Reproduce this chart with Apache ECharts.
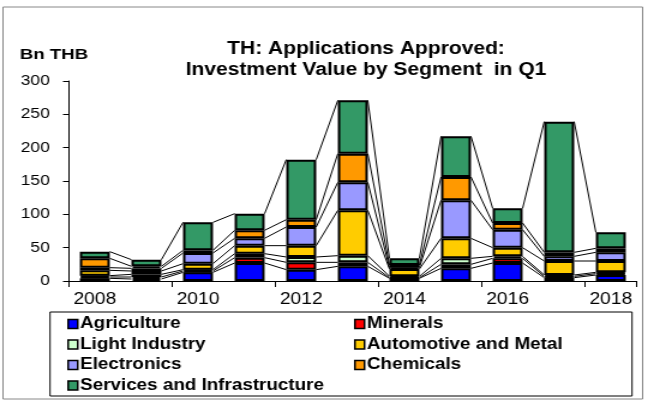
<!DOCTYPE html>
<html>
<head>
<meta charset="utf-8">
<script src="https://cdn.jsdelivr.net/npm/echarts@6/dist/echarts.min.js"></script>
<style>
  html, body { margin: 0; padding: 0; background: #fff; overflow: hidden; }
  /* the source picture is stretched sideways, so draw narrower and widen it */
  #chart { width: 538px; height: 400px; transform: scaleX(1.2); transform-origin: 0 0; }
</style>
</head>
<body>
<div id="chart"></div>
<script>
// years on the x axis
const years = ['2008','2009','2010','2011','2012','2013','2014','2015','2016','2017','2018']

// Bn THB per segment
const agriculture = [4, 3, 13, 27, 17, 22, 4, 19, 27, 5, 9]
const minerals    = [2, 3, 2, 8, 11, 6, 1, 6, 7, 2, 2]
const lightInd    = [2, 4, 2, 6, 8, 10, 2, 9, 3, 2, 2]
const automotive  = [8, 5, 9, 12, 17, 68, 11, 30, 13, 21, 17]
const electronics = [4, 4, 16, 11, 28, 42, 2, 57, 27, 7, 13]
const chemicals   = [14, 3, 4, 12, 11, 43, 4, 35, 10, 6, 6]
const services    = [10, 10, 42, 25, 90, 80, 10, 61, 22, 196, 24]

const yTicks = [0, 50, 100, 150, 200, 250, 300]

const segments = [
  { name: 'Agriculture', data: agriculture, color: '#0000FF' },
  { name: 'Minerals', data: minerals, color: '#FF0000' },
  { name: 'Light Industry', data: lightInd, color: '#CCFFCC' },
  { name: 'Automotive and Metal', data: automotive, color: '#FFCC00' },
  { name: 'Electronics', data: electronics, color: '#9999FF' },
  { name: 'Chemicals', data: chemicals, color: '#FF9900' },
  { name: 'Services and Infrastructure', data: services, color: '#339966' }
]

const FONT = 'Arial, "Liberation Sans", sans-serif'
const BAR_RATIO = 0.58

// running totals, used for the connector lines between bars
let cum = []
let run = years.map(() => 0)
segments.forEach(s => {
  run = run.map((v, i) => v + s.data[i])
  cum.push(run.slice())
})

const chart = echarts.init(document.getElementById('chart'))

let series = segments.map(s => ({
  name: s.name,
  type: 'bar',
  stack: 'total',
  barWidth: (BAR_RATIO * 100) + '%',
  data: s.data,
  itemStyle: { color: s.color, borderColor: '#000', borderWidth: 2 },
  emphasis: { disabled: true }
}))

// excel style series lines
series.push({
  type: 'custom',
  name: 'lines',
  silent: true,
  z: 1,
  data: years.slice(0, -1).map((y, i) => [i]),
  renderItem: function(params, api) {
    const i = params.dataIndex
    const half = api.size([1, 0])[0] * BAR_RATIO / 2
    let children = []
    cum.forEach(c => {
      const p1 = api.coord([i, c[i]])
      const p2 = api.coord([i + 1, c[i + 1]])
      children.push({
        type: 'line',
        shape: { x1: p1[0] + half, y1: p1[1], x2: p2[0] - half, y2: p2[1] },
        style: { stroke: '#000', lineWidth: 1 }
      })
    })
    return { type: 'group', children: children }
  }
})

const legendCommon = {
  orient: 'vertical',
  padding: 0,
  itemWidth: 8,
  itemHeight: 9,
  itemGap: 4.5,
  icon: 'rect',
  selectedMode: false,
  itemStyle: { borderColor: '#000', borderWidth: 1.5 },
  textStyle: { fontFamily: FONT, fontSize: 15.7, lineHeight: 16, fontWeight: 'bold', color: '#000', padding: [0, 0, 0, -3] }
}

chart.setOption({
  animation: false,
  backgroundColor: '#fff',
  title: {
    text: 'TH: Applications Approved:\nInvestment Value by Segment  in Q1',
    left: 300,
    top: 34,
    textAlign: 'center',
    textStyle: { fontFamily: FONT, fontSize: 17.5, fontWeight: 'bold', color: '#000', lineHeight: 21 }
  },
  graphic: [
    { type: 'rect', shape: { x: 2.5, y: 7, width: 533, height: 392 }, style: { fill: 'none', stroke: '#888', lineWidth: 1 } },
    { type: 'rect', shape: { x: 41.7, y: 312, width: 485, height: 84 }, style: { fill: 'none', stroke: '#000', lineWidth: 1 } },
    { type: 'text', left: 16.5, top: 47, style: { text: 'Bn THB', fontFamily: FONT, fontSize: 15.5, fontWeight: 'bold', fill: '#000' } }
  ],
  legend: [
    Object.assign({ left: 56, top: 316, data: ['Agriculture', 'Light Industry', 'Electronics', 'Services and Infrastructure'] }, legendCommon),
    Object.assign({ left: 295, top: 316, data: ['Minerals', 'Automotive and Metal', 'Chemicals'] }, legendCommon)
  ],
  grid: { left: 57.5, right: 7.5, top: 81, bottom: 119, containLabel: false },
  xAxis: {
    type: 'category',
    data: years,
    axisLine: { lineStyle: { color: '#000', width: 1 } },
    axisTick: { show: true, inside: false, length: 6, alignWithLabel: false, lineStyle: { color: '#000' } },
    axisLabel: {
      interval: 1,
      margin: 11,
      fontFamily: FONT,
      fontSize: 16,
      color: '#000'
    },
    splitLine: { show: false }
  },
  yAxis: {
    type: 'value',
    min: yTicks[0],
    max: yTicks[yTicks.length - 1],
    interval: 50,
    axisLine: { show: true, lineStyle: { color: '#000', width: 1 } },
    axisTick: { show: true, length: 5, lineStyle: { color: '#000' } },
    axisLabel: { margin: 16, fontFamily: FONT, fontSize: 14.5, color: '#000' },
    splitLine: { show: false }
  },
  series: series
})
</script>
</body>
</html>
